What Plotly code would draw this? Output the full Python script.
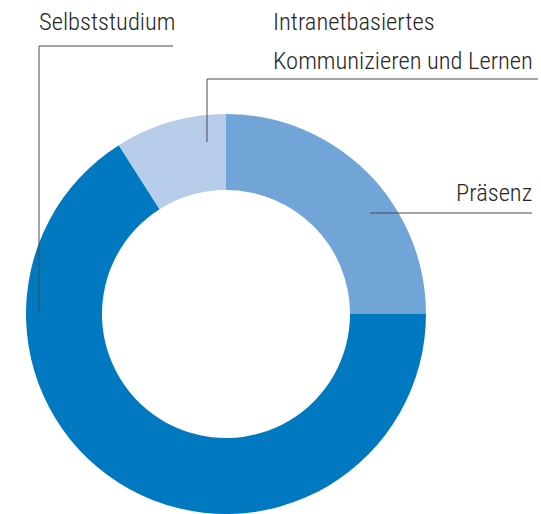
import plotly.graph_objects as go

labels = ["Präsenz", "Selbststudium", "Intranetbasiertes Kommunizieren und Lernen"]
values = [25, 66, 9]
colors = ["#72a5d7", "#0079c1", "#b7cce9"]

W, H = 541, 514

def px(x, y):
    return x / W, 1 - y / H

fig = go.Figure(go.Pie(
    labels=labels, values=values, hole=0.62, sort=False,
    direction="clockwise", rotation=0,
    marker=dict(colors=colors, line=dict(width=0)),
    textinfo="none", showlegend=False,
    domain=dict(x=[26 / W, 426 / W], y=[0, 400 / H]),
))

line_col = "#4a4a4a"
segments = [
    # Selbststudium
    ((39, 46), (173, 46)), ((39, 46), (39, 312)),
    # Intranet
    ((207, 79), (538, 79)), ((207, 79), (207, 142)),
    # Präsenz
    ((370, 213), (532, 213)),
]
for (x0, y0), (x1, y1) in segments:
    a0, b0 = px(x0, y0)
    a1, b1 = px(x1, y1)
    fig.add_shape(type="line", xref="paper", yref="paper",
                  x0=a0, y0=b0, x1=a1, y1=b1,
                  line=dict(color=line_col, width=1))

font = dict(family="Roboto Condensed, Open Sans, sans-serif", size=24.5, color="#262626", weight=300)
texts = [
    ("Selbststudium", 37, 22, "left"),
    ("Intranetbasiertes", 271, 22, "left"),
    ("Kommunizieren und Lernen", 271, 60, "left"),
    ("Präsenz", 534, 192, "right"),
]
for t, x, y, anchor in texts:
    a, b = px(x, y)
    fig.add_annotation(text=t, x=a, y=b, xref="paper", yref="paper",
                       xanchor=anchor, yanchor="middle", showarrow=False, font=font)

fig.update_layout(width=W, height=H, margin=dict(l=0, r=0, t=0, b=0),
                  paper_bgcolor="white", plot_bgcolor="white")
fig.write_html("out.html", post_script="document.body.style.margin='0';",
               config={"displayModeBar": False})
